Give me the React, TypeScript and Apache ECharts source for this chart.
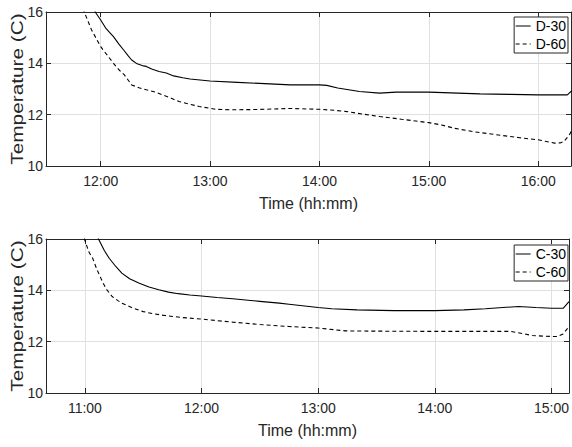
import React, { useEffect, useRef } from "react";
import * as echarts from "echarts";

// ---- Data (time as "hh:mm", temperature in C) ----
const d30Times = ["11:55","11:57","12:00","12:03","12:07","12:10","12:12.6","12:15","12:17","12:20","12:23.5","12:25","12:28","12:32","12:36","12:40","12:45","12:49","13:00","13:15","13:30","13:44","14:00","14:04","14:10","14:16","14:22","14:33","14:42","15:00","15:28","15:45","16:00","16:16","16:19"];
const d30Temps = [16.5,16.0,15.69,15.35,15.04,14.75,14.52,14.3,14.13,13.98,13.9,13.88,13.78,13.68,13.62,13.51,13.44,13.39,13.31,13.26,13.21,13.16,13.16,13.14,13.04,12.97,12.9,12.84,12.88,12.88,12.81,12.79,12.77,12.77,12.97];

const d60Times = ["11:49","11:51","11:55","12:00","12:04","12:07","12:10","12:13","12:17","12:21","12:25","12:30","12:34","12:38","12:43","12:48","12:54","13:03","13:12","13:25","13:44","14:00","14:08","14:15","14:24","14:33","14:45","15:00","15:07","15:14","15:25","15:38","15:50","16:00","16:09","16:12","16:14","16:17","16:19"];
const d60Temps = [16.4,16.0,15.3,14.65,14.28,14.0,13.75,13.55,13.16,13.05,12.97,12.88,12.77,12.66,12.51,12.42,12.32,12.21,12.19,12.2,12.24,12.21,12.17,12.12,12.02,11.93,11.82,11.69,11.6,11.47,11.33,11.21,11.1,11.02,10.89,10.9,10.95,11.2,11.47];

const c30Times = ["11:06","11:07","11:10","11:12.5","11:16","11:19","11:23","11:28","11:33","11:38","11:43","11:48","11:54","12:00","12:08","12:16","12:30","12:40","12:45","13:00","13:07","13:20","13:39","14:00","14:15","14:26","14:35","14:43","14:52","15:00","15:06","15:09"];
const c30Temps = [16.4,16.0,15.55,15.25,14.92,14.67,14.45,14.28,14.13,14.02,13.93,13.87,13.82,13.78,13.72,13.67,13.57,13.5,13.46,13.33,13.28,13.24,13.21,13.21,13.24,13.28,13.33,13.37,13.33,13.3,13.3,13.56];

const c60Times = ["10:59","11:00","11:02","11:04","11:06","11:09","11:11","11:14","11:17","11:19","11:24","11:30","11:35","11:41","11:50","12:00","12:08","12:16","12:30","12:45","13:00","13:14","13:30","14:00","14:20","14:39","14:45","14:50","14:57","15:03","15:06","15:09"];
const c60Temps = [16.3,15.95,15.5,15.25,14.85,14.34,14.05,13.76,13.6,13.5,13.33,13.17,13.09,13.02,12.94,12.88,12.82,12.76,12.67,12.59,12.53,12.42,12.41,12.4,12.4,12.4,12.32,12.24,12.21,12.2,12.3,12.59];

const topRange = ["11:30", "16:18"];
const bottomRange = ["10:40", "15:09"];
const topTicks = ["12:00", "13:00", "14:00", "15:00", "16:00"];
const bottomTicks = ["11:00", "12:00", "13:00", "14:00", "15:00"];
const yTicks = [10, 12, 14, 16];

const topNames = ["D-30", "D-60"];
const bottomNames = ["C-30", "C-60"];

const toMin = (s: string) => {
  const [h, m] = s.split(":");
  return parseInt(h, 10) * 60 + parseFloat(m);
};
const fmt = (v: number) => {
  const h = Math.floor(v / 60);
  const m = Math.round(v - h * 60);
  return `${h}:${m < 10 ? "0" + m : m}`;
};
const pairs = (t: string[], v: number[]) => t.map((s, i) => [toMin(s), v[i]]);

const AXIS = "#262626";
const GRIDC = "#e0e0e0";
const FONT = "'Liberation Sans', Arial, Helvetica, sans-serif";

function xAxes(gridIndex: number, range: string[], ticks: string[]) {
  const min = toMin(range[0]);
  const max = toMin(range[1]);
  const vals = ticks.map(toMin);
  return [
    {
      type: "value", gridIndex, min, max, position: "bottom",
      name: "Time (hh:mm)", nameLocation: "middle", nameGap: 29,
      nameTextStyle: { fontSize: 16, color: AXIS, fontFamily: FONT },
      axisLine: { show: true, onZero: false, lineStyle: { color: AXIS, width: 1 } },
      axisTick: { show: true, inside: true, length: 5, customValues: vals, lineStyle: { color: AXIS } },
      axisLabel: { show: true, customValues: vals, formatter: (v: number) => fmt(v), fontSize: 14, color: AXIS, fontFamily: FONT, margin: 8 },
      splitLine: { show: true, lineStyle: { color: GRIDC, width: 1 } },
    },
    {
      type: "value", gridIndex, min, max, position: "top",
      axisLine: { show: true, onZero: false, lineStyle: { color: AXIS, width: 1 } },
      axisTick: { show: true, inside: true, length: 5, customValues: vals, lineStyle: { color: AXIS } },
      axisLabel: { show: false },
      splitLine: { show: false },
    },
  ];
}

function yAxes(gridIndex: number) {
  return [
    {
      type: "value", gridIndex, min: yTicks[0], max: yTicks[yTicks.length - 1], interval: 2, position: "left",
      axisLine: { show: true, onZero: false, lineStyle: { color: AXIS, width: 1 } },
      axisTick: { show: true, inside: true, length: 5, lineStyle: { color: AXIS } },
      axisLabel: { show: true, fontSize: 14, color: AXIS, fontFamily: FONT, margin: 3 },
      splitLine: { show: true, lineStyle: { color: GRIDC, width: 1 } },
    },
    {
      type: "value", gridIndex, min: yTicks[0], max: yTicks[yTicks.length - 1], interval: 2, position: "right",
      axisLine: { show: true, onZero: false, lineStyle: { color: AXIS, width: 1 } },
      axisTick: { show: true, inside: true, length: 5, lineStyle: { color: AXIS } },
      axisLabel: { show: false },
      splitLine: { show: false },
    },
  ];
}

function lineSeries(name: string, data: number[][], xi: number, yi: number, dashed: boolean) {
  return {
    type: "line", name, data, xAxisIndex: xi, yAxisIndex: yi,
    symbol: "none", showSymbol: false, clip: true, smooth: false,
    lineStyle: { color: "#000", width: 1.1, type: dashed ? [4, 3] : "solid" },
    itemStyle: { color: "#000" },
  };
}

function legend(names: string[], top: number) {
  return {
    data: names, orient: "vertical", right: 4, top,
    backgroundColor: "#fff", borderColor: AXIS, borderWidth: 1, borderRadius: 0,
    padding: [2, 2, 2, 1], itemGap: 4, itemWidth: 15, itemHeight: 10,
    itemStyle: { opacity: 0, borderWidth: 0 },
    lineStyle: { width: 1 },
    textStyle: { fontSize: 14, color: "#000", fontFamily: FONT },
  };
}

function yTitle(cy: number) {
  return {
    type: "text", x: 17.5, y: cy, rotation: Math.PI / 2, scaleX: 1.3,
    style: { text: "Temperature (C)", fontSize: 16, fontFamily: FONT, fill: AXIS, textAlign: "center", textVerticalAlign: "middle" },
  };
}

export default function App() {
  const ref = useRef<HTMLDivElement>(null);
  useEffect(() => {
    if (!ref.current) return;
    const chart = echarts.init(ref.current, null, { renderer: "svg" });
    chart.setOption({
      animation: false,
      backgroundColor: "#fff",
      grid: [
        { left: 46, right: 1, top: 12, height: 154 },
        { left: 46, right: 1, top: 239, height: 154 },
      ],
      xAxis: [...xAxes(0, topRange, topTicks), ...xAxes(1, bottomRange, bottomTicks)],
      yAxis: [...yAxes(0), ...yAxes(1)],
      legend: [legend(topNames, 17), legend(bottomNames, 245)],
      graphic: [yTitle(89), yTitle(316)],
      series: [
        lineSeries(topNames[0], pairs(d30Times, d30Temps), 0, 0, false),
        lineSeries(topNames[1], pairs(d60Times, d60Temps), 0, 0, true),
        lineSeries(bottomNames[0], pairs(c30Times, c30Temps), 2, 2, false),
        lineSeries(bottomNames[1], pairs(c60Times, c60Temps), 2, 2, true),
      ],
    });
    return () => chart.dispose();
  }, []);
  return <div ref={ref} style={{ position: "fixed", left: 0, top: 0, width: 572, height: 447 }} />;
}
